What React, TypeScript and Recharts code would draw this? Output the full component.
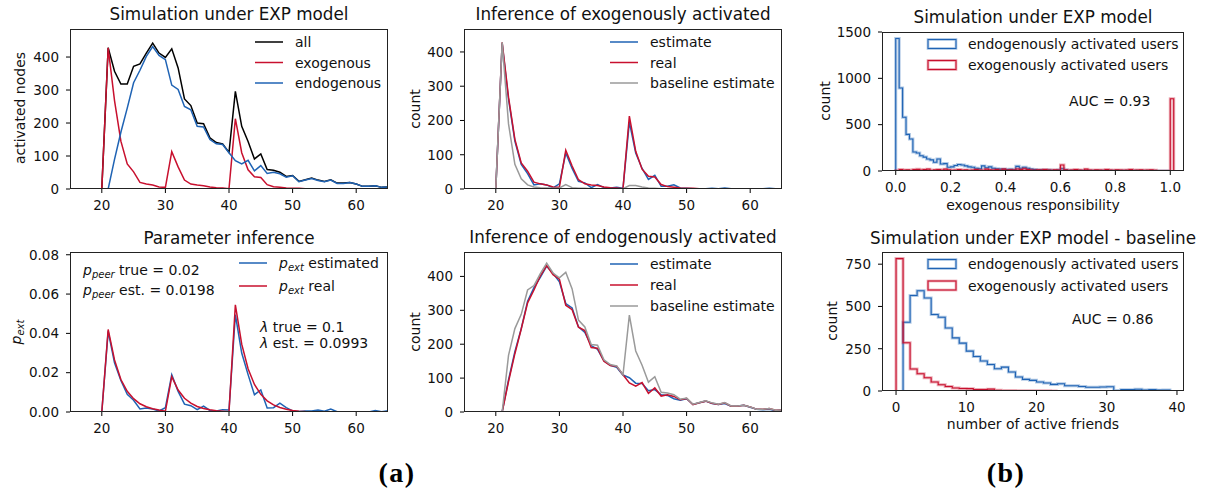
import React from 'react';
import { LineChart, Line, XAxis, YAxis } from 'recharts';

const FONT = '"DejaVu Sans", Verdana, sans-serif';
const BLUE = '#1f63b4';
const RED = '#c8102e';
const GRAY = '#9a9a9a';

// time steps of the four time-series panels
const steps = [
  15, 16, 17, 18, 19, 20, 21, 22, 23, 24, 25, 26, 27, 28, 29, 30, 31, 32, 33, 34,
  35, 36, 37, 38, 39, 40, 41, 42, 43, 44, 45, 46, 47, 48, 49, 50, 51, 52, 53, 54,
  55, 56, 57, 58, 59, 60, 61, 62, 63, 64, 65,
];

const allNodes = [
  0, 0, 0, 0, 0, 0, 428, 357, 318, 318, 372, 379, 412, 442, 412, 399, 425, 367, 273, 253,
  200, 198, 155, 141, 137, 111, 296, 190, 144, 91, 106, 59, 57, 51, 38, 41, 23, 28, 33, 27,
  23, 28, 18, 18, 20, 15, 8, 8, 10, 5, 6,
];
const exoReal = [
  0, 0, 0, 0, 0, 0, 428, 268, 145, 76, 52, 20, 15, 12, 6, 5, 113, 67, 27, 15,
  12, 10, 6, 4, 3, 1, 213, 110, 58, 37, 35, 13, 7, 5, 3, 2, 2, 1, 1, 0,
  0, 0, 0, 0, 0, 0, 0, 0, 0, 0, 0,
];
const endoReal = [
  0, 0, 0, 0, 0, 0, 0, 90, 172, 245, 322, 360, 402, 432, 405, 392, 315, 302, 250, 240,
  190, 188, 150, 137, 135, 110, 86, 76, 87, 55, 71, 47, 51, 46, 36, 40, 22, 27, 32, 26,
  22, 27, 17, 17, 20, 15, 8, 8, 10, 5, 6,
];
const exoEstimate = [
  0, 0, 0, 0, 0, 0, 425, 262, 140, 72, 45, 12, 15, 12, 3, 15, 105, 60, 22, 18,
  4, 13, 4, 3, 5, 2, 195, 105, 60, 28, 40, 8, 8, 12, 3, 2, 1, 1, 1, 2,
  1, 3, 1, 0, 0, 1, 0, 1, 2, 1, 0,
];
const exoBaseline = [
  0, 0, 0, 0, 0, 0, 428, 190, 72, 30, 12, 6, 4, 3, 2, 3, 13, 4, 2, 2,
  1, 1, 1, 1, 1, 1, 10, 10, 6, 3, 2, 1, 1, 0, 0, 0, 0, 0, 0, 0,
  0, 0, 0, 0, 0, 0, 0, 0, 0, 0, 0,
];
const endoEstimate = [
  0, 0, 0, 0, 0, 0, 0, 95, 178, 246, 327, 367, 397, 430, 409, 384, 320, 307, 251, 235,
  196, 185, 151, 138, 132, 109, 101, 85, 84, 63, 66, 51, 49, 39, 35, 39, 22, 27, 32, 25,
  22, 25, 17, 18, 20, 14, 8, 7, 8, 4, 6,
];
const endoBaseline = [
  0, 0, 0, 0, 0, 0, 0, 167, 246, 288, 360, 373, 408, 439, 410, 396, 412, 363, 271, 251,
  199, 197, 154, 140, 136, 110, 286, 180, 138, 88, 104, 58, 56, 51, 38, 41, 23, 28, 33, 27,
  23, 28, 18, 18, 20, 15, 8, 8, 10, 5, 6,
];
const pExtReal = [
  0, 0, 0, 0, 0, 0, 0.042, 0.0265, 0.0165, 0.0105, 0.0068, 0.0042, 0.0027, 0.0017, 0.001, 0.0004,
  0.018, 0.0112, 0.007, 0.0045, 0.0028, 0.0018, 0.0011, 0.0007, 0.0004, 0.0001,
  0.0545, 0.0345, 0.022, 0.014, 0.009, 0.0057, 0.0036, 0.0023, 0.0014, 0.0008, 0.0004, 0.0002, 0.0001,
  0, 0, 0, 0, 0, 0, 0, 0, 0, 0, 0, 0,
];
const pExtEstimated = [
  0, 0, 0, 0, 0, 0, 0.041, 0.025, 0.016, 0.009, 0.006, 0.0015, 0.002, 0.0015, 0.0005, 0.0022,
  0.019, 0.0105, 0.004, 0.0032, 0.0012, 0.003, 0.0008, 0.0005, 0.0012, 0.001,
  0.0495, 0.03, 0.019, 0.0088, 0.0112, 0.002, 0.0022, 0.0045, 0.0022, 0.0005, 0.0002, 0.0005, 0.0005,
  0.001, 0.0004, 0.0015, 0.0001, 0, 0, 0, 0, 0, 0.0008, 0.0001, 0.0006,
];

// histogram of exogenous responsibility, bins of width 0.0125 starting at 0
const respBinWidth = 0.0125;
const respEndo = [
  1430, 895, 580, 395, 345, 205, 195, 165, 150, 130, 120, 95, 130, 75, 80, 40, 45, 60, 70, 65,
  55, 45, 40, 30, 25, 55, 35, 45, 30, 25, 20, 20, 15, 18, 12, 50, 30, 40, 30, 20,
  15, 10, 12, 8, 10, 8, 6, 10, 25, 12, 6, 5, 4, 6, 3, 5, 3, 4, 2, 3,
  2, 3, 2, 1, 2, 1, 2, 1, 1, 2, 1, 0, 1, 1, 0, 1, 0, 0, 0, 0,
];
const respExo = [
  5, 15, 10, 12, 8, 15, 18, 10, 15, 20, 8, 12, 15, 10, 20, 12, 8, 10, 15, 10,
  12, 8, 10, 15, 10, 8, 20, 12, 10, 15, 8, 20, 10, 12, 10, 22, 15, 25, 15, 10,
  8, 12, 10, 15, 10, 8, 12, 10, 65, 12, 8, 10, 15, 10, 8, 20, 10, 8, 12, 10,
  8, 15, 10, 8, 12, 10, 8, 10, 15, 8, 10, 12, 8, 10, 12, 8, 0, 0, 0, 0, 780,
];

// histogram of number of active friends, integer bins
const friendsEndoStart = 1;
const friendsEndo = [
  407, 565, 593, 550, 452, 436, 373, 314, 283, 236, 204, 177, 157, 132, 141, 112, 83, 69, 63, 53,
  47, 39, 43, 31, 31, 27, 22, 22, 24, 25, 3, 8, 8, 10, 6, 8, 5, 6,
];
const friendsExoStart = 0;
const friendsExo = [
  783, 285, 130, 102, 78, 53, 37, 27, 18, 15, 14, 9, 9, 11, 4, 3, 3, 2, 2, 1, 1, 1, 0,
];

const timeTicks = [20, 30, 40, 50, 60];

const rows = steps.map((t, i) => ({
  t,
  all: allNodes[i],
  exo: exoReal[i],
  endo: endoReal[i],
  exoEst: exoEstimate[i],
  exoBase: exoBaseline[i],
  endoEst: endoEstimate[i],
  endoBase: endoBaseline[i],
  pReal: pExtReal[i],
  pEst: pExtEstimated[i],
}));

// outline of a step histogram: points at bin edges
function stepOutline(start: number, width: number, counts: number[]) {
  const pts = [{ t: start, v: 0 }];
  counts.forEach((c, i) => pts.push({ t: start + i * width, v: c }));
  pts.push({ t: start + counts.length * width, v: 0 });
  return pts;
}

type Rect = { x: number; y: number; w: number; h: number };
const YW = 62;
const XH = 34;
const PAD = 12;
const tickStyle = { fill: '#111', fontSize: 13.5, fontFamily: FONT };

function Panel(props: {
  rect: Rect;
  data?: any[];
  xDomain: [number, number];
  xTicks: number[];
  yDomain: [number, number];
  yTicks: number[];
  xFmt?: (v: number) => string;
  yFmt?: (v: number) => string;
  children: React.ReactNode;
}) {
  const { rect, data, xDomain, xTicks, yDomain, yTicks, xFmt, yFmt, children } = props;
  const W = rect.w + YW + 1;
  const H = rect.h + XH + PAD;
  return (
    <div style={{ position: 'absolute', left: rect.x - YW, top: rect.y - PAD, width: W, height: H }}>
      <LineChart width={W} height={H} data={data} margin={{ top: PAD, right: 1, left: 0, bottom: 0 }}>
        <XAxis
          type="number"
          dataKey="t"
          domain={xDomain}
          ticks={xTicks}
          interval={0}
          allowDataOverflow
          height={XH}
          axisLine={false}
          tickLine={{ stroke: '#000' }}
          tickSize={4}
          tickMargin={7}
          tick={tickStyle}
          tickFormatter={xFmt}
        />
        <YAxis
          type="number"
          domain={yDomain}
          ticks={yTicks}
          interval={0}
          allowDataOverflow
          width={YW}
          axisLine={false}
          tickLine={{ stroke: '#000' }}
          tickSize={4}
          tickMargin={7}
          tick={tickStyle}
          tickFormatter={yFmt}
        />
        {children}
      </LineChart>
      <div
        style={{
          position: 'absolute',
          left: YW,
          top: PAD,
          width: rect.w,
          height: rect.h,
          border: '1px solid #222',
          boxSizing: 'border-box',
          pointerEvents: 'none',
        }}
      />
    </div>
  );
}

function series(key: string, color: string, width = 1.5) {
  return (
    <Line
      key={key}
      dataKey={key}
      stroke={color}
      strokeWidth={width}
      dot={false}
      activeDot={false}
      isAnimationActive={false}
      type="linear"
    />
  );
}

function histLines(id: string, pts: { t: number; v: number }[], color: string) {
  return [
    <Line
      key={id + '-halo'}
      data={pts}
      dataKey="v"
      type="stepAfter"
      stroke={color}
      strokeOpacity={0.35}
      strokeWidth={3}
      dot={false}
      activeDot={false}
      isAnimationActive={false}
    />,
    <Line
      key={id}
      data={pts}
      dataKey="v"
      type="stepAfter"
      stroke={color}
      strokeWidth={1.1}
      dot={false}
      activeDot={false}
      isAnimationActive={false}
    />,
  ];
}

function LegendLines({ x, y, dy, items }: { x: number; y: number; dy: number; items: { label: React.ReactNode; color: string }[] }) {
  return (
    <g>
      {items.map((it, i) => (
        <g key={i}>
          <line x1={x} x2={x + 28} y1={y + i * dy} y2={y + i * dy} stroke={it.color} strokeWidth={1.5} />
          <text x={x + 40} y={y + i * dy} dominantBaseline="central" fontSize={14} fontFamily={FONT} fill="#111">
            {it.label}
          </text>
        </g>
      ))}
    </g>
  );
}

function LegendPatches({ x, y, dy, items }: { x: number; y: number; dy: number; items: { label: string; color: string }[] }) {
  return (
    <g>
      {items.map((it, i) => (
        <g key={i}>
          <rect x={x} y={y + i * dy - 4.5} width={28} height={9} fill="none" stroke={it.color} strokeOpacity={0.4} strokeWidth={2.6} />
          <rect x={x} y={y + i * dy - 4.5} width={28} height={9} fill="none" stroke={it.color} strokeWidth={1} />
          <text x={x + 40} y={y + i * dy} dominantBaseline="central" fontSize={14} fontFamily={FONT} fill="#111">
            {it.label}
          </text>
        </g>
      ))}
    </g>
  );
}

function PExt({ name = 'ext' }: { name?: string }) {
  return (
    <>
      <tspan fontStyle="italic">p</tspan>
      <tspan fontStyle="italic" fontSize={10} dy={4}>{name}</tspan>
      <tspan dy={-4}> </tspan>
    </>
  );
}

const P1: Rect = { x: 70, y: 29, w: 318, h: 160 };
const P2: Rect = { x: 464, y: 29, w: 318, h: 160 };
const P3: Rect = { x: 882, y: 32, w: 302, h: 139 };
const P4: Rect = { x: 70, y: 252, w: 318, h: 160 };
const P5: Rect = { x: 464, y: 252, w: 318, h: 160 };
const P6: Rect = { x: 882, y: 252, w: 302, h: 139 };

export default function App() {
  const respEndoPts = stepOutline(0, respBinWidth, respEndo);
  const respExoPts = stepOutline(0, respBinWidth, respExo);
  const frEndoPts = stepOutline(friendsEndoStart, 1, friendsEndo);
  const frExoPts = stepOutline(friendsExoStart, 1, friendsExo);
  const title = { fontSize: 16.8, fontFamily: FONT, fill: '#111', textAnchor: 'middle' as const };
  const label = { fontSize: 14, fontFamily: FONT, fill: '#111', textAnchor: 'middle' as const };
  const note = { fontSize: 14, fontFamily: FONT, fill: '#111' };

  return (
    <div style={{ position: 'absolute', left: 0, top: 0, width: 1205, height: 493, background: '#fff', fontFamily: FONT }}>
      <Panel rect={P1} data={rows} xDomain={[15, 65]} xTicks={timeTicks} yDomain={[0, 485]} yTicks={[0, 100, 200, 300, 400]}>
        {series('all', '#000')}
        {series('exo', RED)}
        {series('endo', BLUE)}
      </Panel>
      <Panel rect={P2} data={rows} xDomain={[15, 65]} xTicks={timeTicks} yDomain={[0, 467]} yTicks={[0, 100, 200, 300, 400]}>
        {series('exoEst', BLUE)}
        {series('exo', RED)}
        {series('exoBase', GRAY)}
      </Panel>
      <Panel
        rect={P3}
        xDomain={[-0.05, 1.05]}
        xTicks={[0, 0.2, 0.4, 0.6, 0.8, 1.0]}
        yDomain={[0, 1500]}
        yTicks={[0, 500, 1000, 1500]}
        xFmt={(v) => v.toFixed(1)}
      >
        {histLines('re', respEndoPts, BLUE)}
        {histLines('rx', respExoPts, RED)}
      </Panel>
      <Panel
        rect={P4}
        data={rows}
        xDomain={[15, 65]}
        xTicks={timeTicks}
        yDomain={[0, 0.0814]}
        yTicks={[0, 0.02, 0.04, 0.06, 0.08]}
        yFmt={(v) => v.toFixed(2)}
      >
        {series('pEst', BLUE)}
        {series('pReal', RED)}
      </Panel>
      <Panel rect={P5} data={rows} xDomain={[15, 65]} xTicks={timeTicks} yDomain={[0, 472]} yTicks={[0, 100, 200, 300, 400]}>
        {series('endoEst', BLUE)}
        {series('endo', RED)}
        {series('endoBase', GRAY)}
      </Panel>
      <Panel rect={P6} xDomain={[-2, 41]} xTicks={[0, 10, 20, 30, 40]} yDomain={[0, 822]} yTicks={[0, 250, 500, 750]}>
        {histLines('fe', frEndoPts, BLUE)}
        {histLines('fx', frExoPts, RED)}
      </Panel>

      <svg width={1205} height={493} style={{ position: 'absolute', left: 0, top: 0, pointerEvents: 'none' }}>
        <text x={229} y={20} {...title}>Simulation under EXP model</text>
        <text x={623} y={20} {...title}>Inference of exogenously activated</text>
        <text x={1033} y={23} {...title}>Simulation under EXP model</text>
        <text x={229} y={244} {...title}>Parameter inference</text>
        <text x={623} y={243} {...title}>Inference of endogenously activated</text>
        <text x={1033} y={244} {...title}>Simulation under EXP model - baseline</text>

        <text transform="rotate(-90 20 108)" x={20} y={108} dominantBaseline="central" {...label}>activated nodes</text>
        <text transform="rotate(-90 415 109)" x={415} y={109} dominantBaseline="central" {...label}>count</text>
        <text transform="rotate(-90 825 101)" x={825} y={101} dominantBaseline="central" {...label}>count</text>
        <text transform="rotate(-90 415 332)" x={415} y={332} dominantBaseline="central" {...label}>count</text>
        <text transform="rotate(-90 832 321)" x={832} y={321} dominantBaseline="central" {...label}>count</text>
        <text transform="rotate(-90 16 332)" x={16} y={332} dominantBaseline="central" {...label}>
          <PExt />
        </text>
        <text x={1033} y={210} {...label}>exogenous responsibility</text>
        <text x={1033} y={429} {...label}>number of active friends</text>

        <LegendLines
          x={255}
          y={42}
          dy={20.5}
          items={[
            { label: 'all', color: '#000' },
            { label: 'exogenous', color: RED },
            { label: 'endogenous', color: BLUE },
          ]}
        />
        <LegendLines
          x={610}
          y={42}
          dy={20.5}
          items={[
            { label: 'estimate', color: BLUE },
            { label: 'real', color: RED },
            { label: 'baseline estimate', color: GRAY },
          ]}
        />
        <LegendLines
          x={610}
          y={264}
          dy={21}
          items={[
            { label: 'estimate', color: BLUE },
            { label: 'real', color: RED },
            { label: 'baseline estimate', color: GRAY },
          ]}
        />
        <LegendLines
          x={239}
          y={263}
          dy={23}
          items={[
            { label: <><PExt />estimated</>, color: BLUE },
            { label: <><PExt />real</>, color: RED },
          ]}
        />
        <LegendPatches
          x={928}
          y={44}
          dy={21}
          items={[
            { label: 'endogenously activated users', color: BLUE },
            { label: 'exogenously activated users', color: RED },
          ]}
        />
        <LegendPatches
          x={928}
          y={264}
          dy={21.5}
          items={[
            { label: 'endogenously activated users', color: BLUE },
            { label: 'exogenously activated users', color: RED },
          ]}
        />

        <text x={1069} y={101} dominantBaseline="central" {...note}>AUC = 0.93</text>
        <text x={1072} y={319} dominantBaseline="central" {...note}>AUC = 0.86</text>

        <text x={83} y={270} dominantBaseline="central" {...note}>
          <PExt name="peer" />true = 0.02
        </text>
        <text x={83} y={290} dominantBaseline="central" {...note}>
          <PExt name="peer" />est. = 0.0198
        </text>
        <text x={260} y={327} dominantBaseline="central" {...note}>
          <tspan fontStyle="italic">λ</tspan> true = 0.1
        </text>
        <text x={260} y={343} dominantBaseline="central" {...note}>
          <tspan fontStyle="italic">λ</tspan> est. = 0.0993
        </text>

        <text x={397} y={482} textAnchor="middle" fontSize={28} fontWeight="bold" fontFamily='"Liberation Serif", "DejaVu Serif", serif' letterSpacing={1.5} fill="#000">
          (a)
        </text>
        <text x={1006} y={482} textAnchor="middle" fontSize={28} fontWeight="bold" fontFamily='"Liberation Serif", "DejaVu Serif", serif' letterSpacing={1.5} fill="#000">
          (b)
        </text>
      </svg>
    </div>
  );
}
